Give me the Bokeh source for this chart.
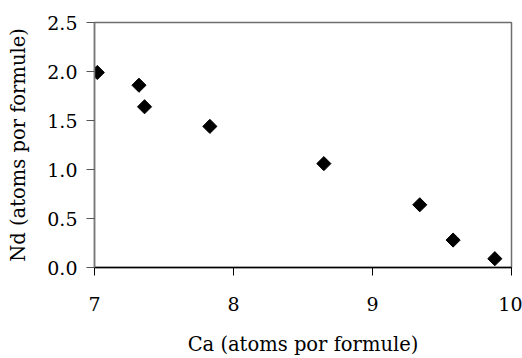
import math
from bokeh.plotting import figure
from bokeh.models import Range1d, FixedTicker, CustomJSTickFormatter
from bokeh.embed import file_html
from bokeh.resources import INLINE

ca = [7.02, 7.32, 7.36, 7.83, 8.65, 9.34, 9.58, 9.88]
nd = [1.99, 1.86, 1.64, 1.44, 1.06, 0.64, 0.28, 0.09]
x_ticks = [7, 8, 9, 10]
y_ticks = [0.0, 0.5, 1.0, 1.5, 2.0, 2.5]

FONT = "DejaVu Serif"

p = figure(width=522, height=358, output_backend="svg", toolbar_location=None,
           x_range=Range1d(7, 10), y_range=Range1d(0, 2.5),
           min_border_left=94, min_border_right=11, min_border_top=22, min_border_bottom=90)
p.background_fill_color = "white"
p.border_fill_color = "white"
p.outline_line_color = "#6e6e6e"
p.outline_line_width = 1.5
p.xgrid.visible = False
p.ygrid.visible = False

p.scatter(ca, nd, marker="square", size=10, angle=math.pi / 4,
          fill_color="black", line_color="black")

for ax in (p.xaxis[0], p.yaxis[0]):
    ax.major_label_text_font = FONT
    ax.major_label_text_font_size = "19px"
    ax.major_label_text_color = "black"
    ax.axis_label_text_font = FONT
    ax.axis_label_text_font_size = "19.5px"
    ax.axis_label_text_font_style = "normal"
    ax.axis_label_text_color = "black"
    ax.minor_tick_line_color = None
    ax.major_tick_out = 8
    ax.major_tick_in = 0

p.xaxis[0].ticker = FixedTicker(ticks=x_ticks)
p.yaxis[0].ticker = FixedTicker(ticks=y_ticks)
p.yaxis[0].formatter = CustomJSTickFormatter(code="return tick.toFixed(1);")
p.xaxis[0].axis_label = "Ca (atoms por formule)"
p.yaxis[0].axis_label = "Nd (atoms por formule)"

p.xaxis[0].axis_line_color = "black"
p.xaxis[0].axis_line_width = 1.5
p.xaxis[0].major_tick_line_color = "black"
p.xaxis[0].major_label_standoff = 21
p.xaxis[0].axis_label_standoff = 19

p.yaxis[0].axis_line_color = "#7a7a7a"
p.yaxis[0].axis_line_width = 1.5
p.yaxis[0].major_tick_line_color = "#555555"
p.yaxis[0].major_label_standoff = 9
p.yaxis[0].axis_label_standoff = 14

open("out.html", "w").write(file_html(p, INLINE))
